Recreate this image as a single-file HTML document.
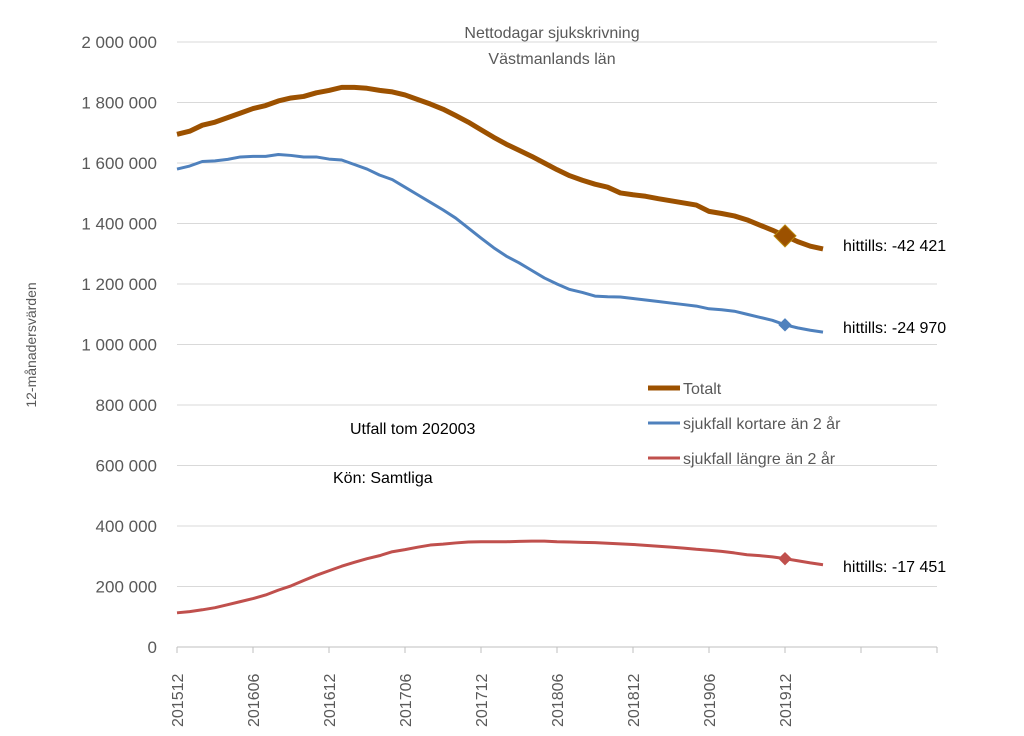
<!DOCTYPE html>
<html><head><meta charset="utf-8"><style>
body{margin:0;background:#fff;}
svg text{font-family:"Liberation Sans",sans-serif;}
</style></head><body>
<svg id="c" width="1024" height="731">
<rect width="1024" height="731" fill="#fff"/>
<text x="552" y="38" text-anchor="middle" font-size="16" fill="#595959">Nettodagar sjukskrivning</text>
<text x="552" y="64" text-anchor="middle" font-size="16" fill="#595959">Västmanlands län</text>
<text transform="translate(36,345) rotate(-90)" text-anchor="middle" font-size="14" fill="#595959">12-månadersvärden</text>
<g id="grid"></g><g id="lines"></g>
<text x="350" y="434" font-size="16" fill="#000">Utfall tom 202003</text>
<text x="333" y="483" font-size="16" fill="#000">Kön: Samtliga</text>
<g>
<line x1="648" y1="388" x2="680" y2="388" stroke="#9C5100" stroke-width="5"/>
<text x="683" y="394" font-size="16" fill="#595959">Totalt</text>
<line x1="648" y1="423" x2="680" y2="423" stroke="#4F81BD" stroke-width="3"/>
<text x="683" y="429" font-size="16" fill="#595959">sjukfall kortare än 2 år</text>
<line x1="648" y1="458" x2="680" y2="458" stroke="#C0504D" stroke-width="3"/>
<text x="683" y="464" font-size="16" fill="#595959">sjukfall längre än 2 år</text>
</g>
<text x="843" y="251" font-size="16" fill="#000">hittills: -42 421</text>
<text x="843" y="333" font-size="16" fill="#000">hittills: -24 970</text>
<text x="843" y="572" font-size="16" fill="#000">hittills: -17 451</text>
</svg>
<script>
const yTicks=[0,200000,400000,600000,800000,1000000,1200000,1400000,1600000,1800000,2000000];
const xTickLabels=["201512","201606","201612","201706","201712","201806","201812","201906","201912","",""];
const totalt=[1695,1705,1725,1735,1750,1765,1780,1790,1805,1815,1820,1832,1840,1850,1850,1847,1840,1835,1825,1810,1795,1778,1757,1735,1710,1685,1662,1642,1622,1600,1578,1558,1543,1530,1520,1501,1495,1490,1482,1475,1468,1461,1440,1433,1425,1412,1395,1378,1359,1340,1325,1316];
const kortare=[1580,1590,1605,1607,1612,1620,1622,1622,1628,1625,1620,1620,1613,1610,1595,1580,1560,1545,1520,1495,1470,1445,1418,1385,1352,1320,1292,1270,1245,1220,1200,1182,1172,1160,1158,1157,1152,1147,1142,1137,1132,1127,1118,1115,1110,1100,1090,1080,1065,1055,1047,1041];
const langre=[113,117,123,130,140,150,160,172,188,202,220,237,252,267,280,292,302,315,322,330,337,340,344,347,348,348,348,349,350,350,348,347,346,345,343,341,339,336,333,330,327,323,320,316,311,305,302,298,292,285,278,272];
const markerIndex=48;
const NS="http://www.w3.org/2000/svg";
const x0=177,x1=937,y0=647,y1=42;
const xs=i=>x0+i*(x1-x0)/60;
const ys=v=>y0-v/2000000*(y0-y1);
function el(t,a,p){const e=document.createElementNS(NS,t);for(const k in a)e.setAttribute(k,a[k]);p.appendChild(e);return e;}
const grid=document.getElementById('grid'),lines=document.getElementById('lines');
yTicks.forEach(v=>{
 const y=ys(v);
 if(v>0){const g=el('line',{x1:x0,x2:x1,y1:y,y2:y,stroke:'#d9d9d9','stroke-width':1},grid);
 
 }
 const t=el('text',{x:157,y:y+6,'text-anchor':'end','font-size':17,fill:'#595959'},grid);
 t.textContent=v.toLocaleString('en').replace(/,/g,' ');
 
 
});
const ax=el('line',{x1:x0,x2:x1,y1:y0,y2:y0,stroke:'#bfbfbf','stroke-width':1},grid);


xTickLabels.forEach((l,k)=>{
 const x=xs(k*6);
 const tk=el('line',{x1:x,x2:x,y1:y0,y2:y0+6,stroke:'#bfbfbf'},grid);
 
 
 if(l){const t=el('text',{transform:`translate(${x+6},${y0+80}) rotate(-90)`,'font-size':16,fill:'#595959'},grid);
 t.textContent=l;
 
 }
});
function series(d,col,w,name,ms){
 const p=el('path',{d:d.map((v,i)=>(i?'L':'M')+xs(i)+','+ys(v*1000)).join(''),fill:'none',stroke:col,'stroke-width':w,'stroke-linejoin':'round'},lines);
 
 
 const cx=xs(markerIndex),cy=ys(d[markerIndex]*1000);
 const m=el('path',{d:`M${cx},${cy-ms}L${cx+ms},${cy}L${cx},${cy+ms}L${cx-ms},${cy}Z`,fill:col,stroke:name=='totalt'?'#b8860b':col},lines);
 
 
}
series(langre,'#C0504D',3,'langre',6);
series(kortare,'#4F81BD',3,'kortare',6);
series(totalt,'#9C5100',5,'totalt',11);
</script>
</body></html>
